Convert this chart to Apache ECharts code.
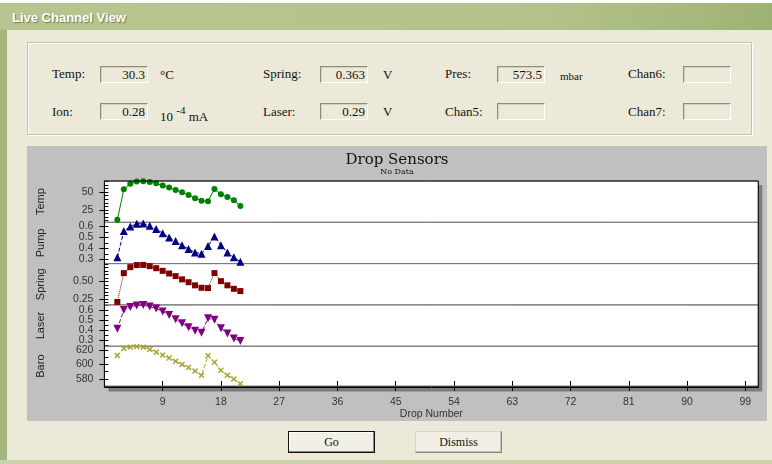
<!DOCTYPE html>
<html><head><meta charset="utf-8">
<script src="https://cdn.jsdelivr.net/npm/echarts@6/dist/echarts.min.js"></script>
<style>
html,body{margin:0;padding:0;width:772px;height:464px;overflow:hidden;background:#fff;}
.abs{position:absolute;}
#win{left:0;top:3px;width:772px;height:461px;background:#ECE9D8;}
#titlebar{left:0;top:3px;width:772px;height:27px;background:linear-gradient(to right,#b7c690 0%,#b3c38b 70%,#9fb275 100%);}
#titletext{left:12px;top:10px;font:bold 13px "Liberation Sans",Arial,sans-serif;color:#fff;text-shadow:1px 1px 1px #6f7f4c;}
#lborder{left:0;top:30px;width:7px;height:434px;background:#a3b67c;}
#bborder{left:0;top:460px;width:772px;height:4px;background:#c9d3ae;}
#group{left:27px;top:42px;width:723px;height:91px;border:1px solid #c4c1b2;box-shadow:1px 1px 0 #fff, inset 1px 1px 0 #fff;}
.lbl{font:13px "Liberation Serif","Times New Roman",serif;color:#111;line-height:16px;white-space:nowrap;}
.box{width:44px;height:15px;border-top:1px solid #8e8c80;border-left:1px solid #8e8c80;border-bottom:1px solid #fff;border-right:1px solid #fff;box-shadow:inset 1px 1px 0 #d4d0c0;font:13px "Liberation Serif","Times New Roman",serif;color:#111;line-height:15px;text-align:right;padding-right:2px;box-sizing:content-box;}
#panel{left:27px;top:146px;width:740px;height:275px;background:#c0c0c0;}
.btn{top:431px;width:85px;height:20px;font:12px "Liberation Serif","Times New Roman",serif;color:#111;line-height:20px;text-align:center;background:#f2f0e6;}
#go{left:288px;border:1px solid #111;box-shadow:inset -1px -1px 0 #8a887c, inset 1px 1px 0 #fff;}
#dismiss{left:415px;border:1px solid #d8d5c6;border-right-color:#8a887c;border-bottom-color:#8a887c;box-shadow:inset -1px -1px 0 #c4c1b2;}
</style></head>
<body>
<div id="win" class="abs"></div>
<div id="titlebar" class="abs"></div>
<div id="titletext" class="abs">Live Channel View</div>
<div id="lborder" class="abs"></div>
<div id="bborder" class="abs"></div>
<div id="group" class="abs"></div>

<div class="abs lbl" style="left:52px;top:66px">Temp:</div>
<div class="abs box" style="left:100px;top:66px">30.3</div>
<div class="abs lbl" style="left:160px;top:67px">°C</div>
<div class="abs lbl" style="left:263px;top:66px">Spring:</div>
<div class="abs box" style="left:320px;top:66px">0.363</div>
<div class="abs lbl" style="left:383px;top:67px">V</div>
<div class="abs lbl" style="left:445px;top:66px">Pres:</div>
<div class="abs box" style="left:497px;top:66px">573.5</div>
<div class="abs lbl" style="left:560px;top:68px;font-size:11px">mbar</div>
<div class="abs lbl" style="left:628px;top:66px">Chan6:</div>
<div class="abs box" style="left:683px;top:66px"></div>

<div class="abs lbl" style="left:52px;top:104px">Ion:</div>
<div class="abs box" style="left:100px;top:103px">0.28</div>
<div class="abs lbl" style="left:160px;top:104px">10 <sup style="font-size:11px;position:relative;top:-2px">-4</sup> mA</div>
<div class="abs lbl" style="left:263px;top:104px">Laser:</div>
<div class="abs box" style="left:320px;top:103px">0.29</div>
<div class="abs lbl" style="left:383px;top:104px">V</div>
<div class="abs lbl" style="left:445px;top:104px">Chan5:</div>
<div class="abs box" style="left:497px;top:103px"></div>
<div class="abs lbl" style="left:628px;top:104px">Chan7:</div>
<div class="abs box" style="left:683px;top:103px"></div>

<div id="panel" class="abs"></div>
<div id="go" class="abs btn">Go</div>
<div id="dismiss" class="abs btn">Dismiss</div>

<script>
// ---- data ----
const drops = [2,3,4,5,6,7,8,9,10,11,12,13,14,15,16,17,18,19,20,21];
const temp = [11, 54, 62, 65, 65.5, 64.5, 62.5, 59.5, 56.5, 53, 50, 46, 41.5, 38, 37, 54.5, 47, 43, 38.5, 30.3];
const pump = [0.32, 0.56, 0.60, 0.625, 0.627, 0.607, 0.577, 0.54, 0.50, 0.468, 0.43, 0.396, 0.365, 0.352, 0.423, 0.51, 0.43, 0.365, 0.32, 0.28];
const spring = [0.207, 0.62, 0.705, 0.735, 0.737, 0.72, 0.69, 0.652, 0.614, 0.577, 0.53, 0.49, 0.445, 0.41, 0.406, 0.62, 0.505, 0.445, 0.395, 0.363];
const laser = [0.415, 0.605, 0.635, 0.65, 0.655, 0.64, 0.62, 0.59, 0.555, 0.51, 0.47, 0.43, 0.395, 0.375, 0.52, 0.505, 0.42, 0.365, 0.315, 0.29];
const baro = [612.5, 622, 624, 625, 624, 621, 617, 613, 609, 604.5, 600, 596, 591, 585, 612, 603, 592, 585, 580, 573.5];

const paneNames = ['Temp', 'Pump', 'Spring', 'Laser', 'Baro'];
const paneMin = [7.4, 0.263, 0.165, 0.237, 570.3];
const paneMax = [65.8, 0.639, 0.756, 0.657, 625.3];
const majorTicks = [[25, 50], [0.3, 0.4, 0.5, 0.6], [0.25, 0.5], [0.3, 0.4, 0.5, 0.6], [580, 600, 620]];
const minorTicks = [
  [10,15,20,25,30,35,40,45,50,55,60,65],
  [0.3,0.35,0.4,0.45,0.5,0.55,0.6],
  [0.2,0.25,0.3,0.35,0.4,0.45,0.5,0.55,0.6,0.65,0.7,0.75],
  [0.25,0.3,0.35,0.4,0.45,0.5,0.55,0.6,0.65],
  [580,590,600,610,620]
];
const labelDecimals = [0, 1, 2, 1, 0];
const xTickLabels = [9,18,27,36,45,54,63,72,81,90,99];
const xMin = 0, xMax = 101, xInterval = 9;

const seriesData = [temp, pump, spring, laser, baro];
const colors = ['#008000', '#000080', '#800000', '#800080', '#a3a32e'];
const symbols = ['circle', 'triangle', 'rect', 'triangle', 'path://M4,0H6V4H10V6H6V10H4V6H0V4H4Z'];
const symbolSizes = [6, 8, 6, 8, 7];
const symbolRotates = [0, 0, 0, 180, 45];
const lineTypes = ['solid', 'dashed', 'dotted', 'dashed', 'dashed'];

// ---- layout (in panel coords) ----
const gLeft = 77.4, gWidth = 653.9, gTop = 35, paneH = 41.3;

const chart = echarts.init(document.getElementById('panel'), null, {renderer: 'canvas'});
const grids = [], xAxes = [], yAxes = [], series = [];
for (let i = 0; i < 5; i++) {
  grids.push({left: gLeft, top: gTop + i * paneH, width: gWidth, height: paneH,
    show: true, backgroundColor: 'transparent', borderColor: '#7a7a7a', borderWidth: 1, z: 1});
}
grids.push({left: gLeft, top: gTop, width: gWidth, height: paneH * 5, show: true,
  backgroundColor: '#ffffff', borderWidth: 0, shadowColor: '#7c7c7c', shadowOffsetX: 4, shadowOffsetY: 4, shadowBlur: 0, z: 0});
grids.push({left: gLeft, top: gTop, width: gWidth, height: paneH * 5, show: true,
  backgroundColor: 'transparent', borderColor: '#000', borderWidth: 1, z: 3});

const yLabelStyle = {fontFamily: 'Liberation Sans', fontSize: 10.5, color: '#333'};
const fmt = d => (v => Number(v).toFixed(d));

for (let i = 0; i < 5; i++) {
  const last = i === 4;
  xAxes.push({type: 'value', gridIndex: i, min: xMin, max: xMax, interval: xInterval, position: 'bottom',
    show: last,
    axisLine: {show: last, lineStyle: {color: '#000', width: 1}},
    axisTick: {show: last, length: 5, inside: false, lineStyle: {color: '#000'}},
    axisLabel: {show: last, showMinLabel: false, showMaxLabel: false, margin: 11,
      fontFamily: 'Liberation Sans', fontSize: 10.5, color: '#333',
      formatter: v => (xTickLabels.indexOf(v) >= 0 ? String(v) : '')},
    splitLine: {show: false},
    name: last ? 'Drop Number' : '', nameLocation: 'middle', nameGap: 23,
    nameTextStyle: {fontFamily: 'Liberation Sans', fontSize: 10.5, color: '#333'}
  });
  // labels split over two axes so close labels are never dropped
  const labA = majorTicks[i].filter((v, k) => k % 2 === 0);
  const labB = majorTicks[i].filter((v, k) => k % 2 === 1);
  yAxes.push(Object.assign({type: 'value', gridIndex: i, min: paneMin[i], max: paneMax[i], position: 'left',
    axisLine: {show: true, lineStyle: {color: '#000'}},
    axisTick: {show: true, length: 5, customValues: majorTicks[i], lineStyle: {color: '#000'}},
    axisLabel: Object.assign({show: true, customValues: labA, margin: 11, formatter: fmt(labelDecimals[i])}, yLabelStyle),
    splitLine: {show: false},
    name: paneNames[i], nameLocation: 'middle', nameRotate: 90, nameGap: 58,
    nameTextStyle: {fontFamily: 'Liberation Sans', fontSize: 11, color: '#222'}
  }));
  yAxes.push({type: 'value', gridIndex: i, min: paneMin[i], max: paneMax[i], position: 'left',
    axisLine: {show: false}, splitLine: {show: false},
    axisLabel: Object.assign({show: labB.length > 0, customValues: labB.length ? labB : [paneMin[i]], margin: 11, formatter: fmt(labelDecimals[i])}, yLabelStyle),
    axisTick: {show: true, inside: true, length: 4, customValues: minorTicks[i], lineStyle: {color: '#000'}}});
}
xAxes.push({type: 'value', gridIndex: 4, min: xMin, max: xMax, interval: xInterval, position: 'bottom',
  axisLine: {show: false}, axisLabel: {show: false}, splitLine: {show: false},
  axisTick: {show: true, inside: true, length: 5, lineStyle: {color: '#000'}}});
for (const g of [5, 6]) {
  xAxes.push({type: 'value', gridIndex: g, min: 0, max: 1, show: false});
  yAxes.push({type: 'value', gridIndex: g, min: 0, max: 1, show: false});
}

for (let i = 0; i < 5; i++) {
  series.push({type: 'line', xAxisIndex: i, yAxisIndex: i * 2,
    data: drops.map((d, k) => [d, seriesData[i][k]]),
    symbol: symbols[i], symbolSize: symbolSizes[i], symbolRotate: symbolRotates[i], showAllSymbol: true,
    lineStyle: {color: colors[i], width: 1, type: lineTypes[i]},
    itemStyle: {color: colors[i], borderColor: colors[i], borderWidth: 0},
    clip: false, z: 2, animation: false});
}

chart.setOption({
  animation: false,
  backgroundColor: '#c0c0c0',
  title: {text: 'Drop Sensors', subtext: 'No Data', left: 'center', top: 2, itemGap: 0,
    textStyle: {fontFamily: 'DejaVu Serif', fontSize: 15, fontWeight: 'normal', color: '#111'},
    subtextStyle: {fontFamily: 'DejaVu Serif', fontSize: 8, color: '#111'}},
  grid: grids, xAxis: xAxes, yAxis: yAxes, series: series
});
</script>
</body></html>
